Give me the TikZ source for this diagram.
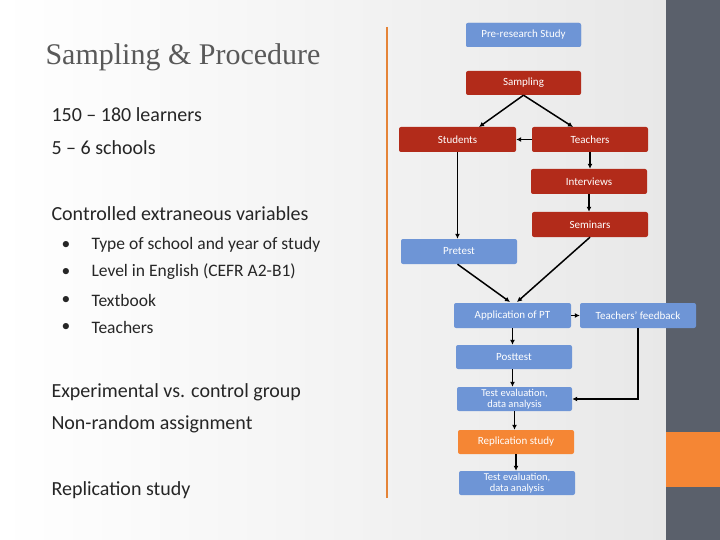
\documentclass[tikz,border=0pt]{standalone}
\usepackage{fontspec}
\setmainfont{Carlito}
\newfontfamily\titlefont{Liberation Serif}
\usetikzlibrary{arrows.meta}
\definecolor{bblue}{HTML}{6E95D6}
\definecolor{bred}{HTML}{B22B1A}
\definecolor{bor}{HTML}{F58634}
\definecolor{bgray}{HTML}{5A606B}
\definecolor{txt}{HTML}{262626}
\begin{document}
\begin{tikzpicture}[x=1pt,y=-1pt,
 bx/.style={rounded corners=2pt,text=white,font=\fontsize{11}{11}\selectfont,align=center,inner sep=0pt},
 ar/.style={-{Latex[length=5pt,width=5pt]},line width=1.5pt},
 bt/.style={anchor=west,text=txt,font=\fontsize{20}{22}\selectfont},
 bl/.style={anchor=west,text=txt,font=\fontsize{17.5}{20}\selectfont}]
\useasboundingbox (0,0) rectangle (720,540);
\shade[left color=white,right color=gray!18] (0,0) rectangle (666,540);
\fill[bgray] (666,0) rectangle (720,540);
\fill[bor] (666,432) rectangle (720,487);
\draw[bor!70!brown,line width=1.5pt] (387,27) -- (387,498);
\node[anchor=west,text=black!65,font=\titlefont\fontsize{30}{30}\selectfont] (title) at (42,57) {Sampling \& Procedure};
\node[bt] (t1) at (48,115) {150 – 180 learners};
\node[bt] (t2) at (48,148) {5 – 6 schools};
\node[bt] (t3) at (48,214) {Controlled extraneous variables};
\foreach \y/\s [count=\i] in {245/Type of school and year of study,272/Level in English (CEFR A2-B1),300/Textbook,327/Teachers}{
 \node[bl] (bd\i) at (58,\y) {•};
 \node[bl] (b\i) at (88,\y) {\s};}
\node[bt] (t4) at (48,392) {Experimental vs. control group};
\node[bt] (t5) at (48,424) {Non-random assignment};
\node[bt] (t6) at (48,490) {Replication study};
\newcommand\bbox[6]{\fill[#6,rounded corners=2pt] (#1,#2) rectangle (#3,#4);
 \node[bx] (#5) at ({(#1+#3)/2},{(#2+#4)/2}) {};}
\fill[bblue,rounded corners=2pt] (466,23) rectangle (581,47);
\node[bx,minimum width=115pt,minimum height=24pt,fill=bblue] (pre) at (523.5,35) {Pre-research Study};
\node[bx,minimum width=115pt,minimum height=24pt,fill=bred] (samp) at (523.5,83) {Sampling};
\node[bx,minimum width=117pt,minimum height=25pt,fill=bred] (stu) at (457.5,139.5) {Students};
\node[bx,minimum width=116pt,minimum height=25pt,fill=bred] (tea) at (590,139.5) {Teachers};
\node[bx,minimum width=116pt,minimum height=25pt,fill=bred] (int) at (589,181.5) {Interviews};
\node[bx,minimum width=116pt,minimum height=25pt,fill=bred] (sem) at (590,224.5) {Seminars};
\node[bx,minimum width=116pt,minimum height=25pt,fill=bblue] (pret) at (459,251.5) {Pretest};
\node[bx,minimum width=117pt,minimum height=25pt,fill=bblue] (app) at (512.5,315.5) {Application of PT};
\node[bx,minimum width=116pt,minimum height=25pt,fill=bblue] (fb) at (638,315.5) {Teachers’ feedback};
\node[bx,minimum width=116pt,minimum height=24pt,fill=bblue] (post) at (514,357) {Posttest};
\node[bx,minimum width=115pt,minimum height=24pt,fill=bblue,font=\fontsize{10.5}{11}\selectfont] (te1) at (514.5,399) {Test evaluation,\\data analysis};
\node[bx,minimum width=116pt,minimum height=24pt,fill=bor] (rep) at (516,442) {Replication study};
\node[bx,minimum width=116pt,minimum height=24pt,fill=bblue,font=\fontsize{10.5}{11}\selectfont] (te2) at (517,483) {Test evaluation,\\data analysis};
\draw[ar] (samp.south) -- (479,127);
\draw[ar] (samp.south) -- (573,127);
\draw[ar] (tea.west) -- (stu.east);
\draw[ar] (tea.south) -- (int.north -| tea.south);
\draw[ar] (int.south) -- (sem.north -| int.south);
\draw[ar] (stu.south) -- (pret.north -| stu.south);
\draw[ar] (pret.south -| stu.south) -- (510,302);
\draw[ar] (sem.south) -- (517,302);
\draw[ar] (app.east) -- (fb.west);
\draw[ar] (app.south) -- (post.north -| app.south);
\draw[ar] (post.south -| app.south) -- (te1.north -| app.south);
\draw[ar] (fb.south) |- (te1.east);
\draw[ar] (te1.south) -- (rep.north -| te1.south);
\draw[ar] (rep.south) -- (te2.north -| rep.south);
\end{tikzpicture}
\end{document}
